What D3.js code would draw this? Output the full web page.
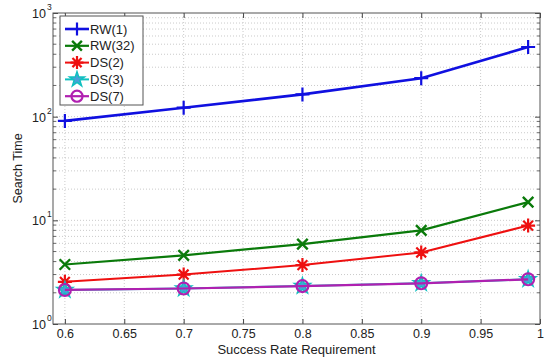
<!DOCTYPE html>
<html>
<head>
<script src="https://d3js.org/d3.v7.min.js"></script>
<style>
body{margin:0;background:#fff;}
text{font-family:"Liberation Sans",Arial,sans-serif;fill:#222;}
</style>
</head>
<body>
<svg width="545" height="363"></svg>
<script>
// data
var rates = [0.6, 0.7, 0.8, 0.9, 0.99];
var rw1  = [91, 122, 164, 235, 470];
var rw32 = [3.75, 4.6, 5.9, 8.0, 15.0];
var ds2  = [2.55, 3.0, 3.7, 4.9, 8.9];
var ds3  = [2.13, 2.2, 2.32, 2.47, 2.7];
var ds7  = [2.13, 2.2, 2.32, 2.47, 2.7];
var xTicks = [0.6, 0.65, 0.7, 0.75, 0.8, 0.85, 0.9, 0.95, 1];
var yTicks = [1, 10, 100, 1000];

var series = [
  {name:'RW(1)',  values:rw1,  color:'#1010e0', marker:'plus', w:2.6},
  {name:'RW(32)', values:rw32, color:'#0a7a0a', marker:'cross', w:2.2},
  {name:'DS(2)',  values:ds2,  color:'#ee1010', marker:'aster', w:2},
  {name:'DS(3)',  values:ds3,  color:'#10c0c0', marker:'star', w:2},
  {name:'DS(7)',  values:ds7,  color:'#b020b0', marker:'circle', w:2.2}
];

var svg = d3.select('svg');
var pLeft = 53, pRight = 540, pTop = 13, pBottom = 324;

var x = d3.scaleLinear().domain([0.59, 1]).range([pLeft, pRight]);
var y = d3.scaleLog().domain([1, 1000]).range([pBottom, pTop]);

var g = svg.append('g');

// grid
var minor = [];
for (var d = 1; d < 1000; d *= 10) for (var k = 2; k <= 9; k++) minor.push(d * k);
g.selectAll('.hg').data(minor.concat(yTicks.slice(1, 3))).enter().append('line')
  .attr('x1', pLeft).attr('x2', pRight)
  .attr('y1', d => y(d)).attr('y2', d => y(d))
  .attr('stroke', '#bdbdbd').attr('stroke-width', 0.8).attr('stroke-dasharray', '1,2');
g.selectAll('.vg').data(xTicks.slice(0, -1)).enter().append('line')
  .attr('x1', d => x(d)).attr('x2', d => x(d))
  .attr('y1', pTop).attr('y2', pBottom)
  .attr('stroke', '#bdbdbd').attr('stroke-width', 0.8).attr('stroke-dasharray', '1,2');

// axes, ticks inward
var ax = d3.axisBottom(x).tickValues(xTicks).tickSize(-5).tickPadding(5)
  .tickFormat(d => d === 1 ? '1' : d3.format('')(d));
var gx = g.append('g').attr('transform', `translate(0,${pBottom})`).call(ax);
gx.select('.domain').remove();
gx.selectAll('text').attr('font-size', 12.5).attr('fill', '#333');
gx.selectAll('line').attr('stroke', '#444');
var gxt = g.append('g').attr('transform', `translate(0,${pTop})`)
  .call(d3.axisTop(x).tickValues(xTicks).tickSize(-5).tickFormat(''));
gxt.select('.domain').remove();
gxt.selectAll('line').attr('stroke', '#444');

var ay = d3.axisLeft(y).tickValues(yTicks).tickSize(-5).tickFormat('');
var gy = g.append('g').attr('transform', `translate(${pLeft},0)`).call(ay);
gy.select('.domain').remove();
gy.selectAll('line').attr('stroke', '#444');
var gyr = g.append('g').attr('transform', `translate(${pRight},0)`)
  .call(d3.axisRight(y).tickValues(yTicks).tickSize(-5).tickFormat(''));
gyr.select('.domain').remove();
gyr.selectAll('line').attr('stroke', '#444');
// minor ticks
[pLeft, pRight].forEach(function (px) {
  var s = px === pLeft ? 1 : -1;
  g.selectAll(null).data(minor).enter().append('line')
    .attr('x1', px).attr('x2', px + s * 3)
    .attr('y1', d => y(d)).attr('y2', d => y(d))
    .attr('stroke', '#444').attr('stroke-width', 0.8);
});

// y tick labels with exponents
yTicks.forEach(function (v) {
  g.append('text').attr('x', pLeft - 7).attr('y', y(v) + 5)
    .attr('text-anchor', 'end').attr('font-size', 12.5).attr('fill', '#333').text('10');
  g.append('text').attr('x', pLeft - 6).attr('y', y(v) - 3)
    .attr('font-size', 8.5).attr('fill', '#333').text(Math.log10(v));
});

// box
g.append('rect').attr('x', pLeft).attr('y', pTop).attr('width', pRight - pLeft).attr('height', pBottom - pTop)
  .attr('fill', 'none').attr('stroke', '#555').attr('stroke-width', 1);

// labels
g.append('text').attr('x', (pLeft + pRight) / 2).attr('y', 354).attr('text-anchor', 'middle')
  .attr('font-size', 13).attr('fill', '#333').text('Success Rate Requirement');
g.append('text').attr('transform', `translate(22,${(pTop + pBottom) / 2}) rotate(-90)`)
  .attr('text-anchor', 'middle').attr('font-size', 12.5).attr('fill', '#333').text('Search Time');

// markers
function marker(sel, s, r) {
  var c = s.color;
  if (s.marker === 'plus') {
    sel.append('path').attr('d', `M${-r},0H${r}M0,${-r}V${r}`).attr('stroke', c).attr('stroke-width', 2.2);
  } else if (s.marker === 'cross') {
    var a = r * 0.75;
    sel.append('path').attr('d', `M${-a},${-a}L${a},${a}M${-a},${a}L${a},${-a}`).attr('stroke', c).attr('stroke-width', 2.4);
  } else if (s.marker === 'aster') {
    var a2 = r * 0.7;
    sel.append('path').attr('d', `M${-r},0H${r}M0,${-r}V${r}M${-a2},${-a2}L${a2},${a2}M${-a2},${a2}L${a2},${-a2}`)
      .attr('stroke', c).attr('stroke-width', 2.2);
  } else if (s.marker === 'star') {
    sel.append('path').attr('d', d3.symbol(d3.symbolStar, r * r * 1.6)())
      .attr('fill', '#4aa0d8').attr('stroke', c).attr('stroke-width', 1.5);
  } else {
    sel.append('circle').attr('r', r * 0.85).attr('fill', 'none').attr('stroke', c).attr('stroke-width', 2.2);
  }
}

var line = d3.line().x(d => x(d[0])).y(d => y(d[1]));
series.forEach(function (s) {
  var pts = rates.map((r, i) => [r, s.values[i]]);
  g.append('path').datum(pts).attr('d', line).attr('fill', 'none')
    .attr('stroke', s.color).attr('stroke-width', s.w);
  pts.forEach(function (p) {
    var m = g.append('g').attr('transform', `translate(${x(p[0])},${y(p[1])})`);
    marker(m, s, 7);
  });
});

// legend
var lg = g.append('g').attr('transform', 'translate(60,16)');
lg.append('rect').attr('width', 83).attr('height', 89).attr('fill', '#fff').attr('stroke', '#555');
series.forEach(function (s, i) {
  var yy = 13 + i * 16.8;
  lg.append('line').attr('x1', 5).attr('x2', 29).attr('y1', yy).attr('y2', yy)
    .attr('stroke', s.color).attr('stroke-width', s.w);
  var m = lg.append('g').attr('transform', `translate(17,${yy})`);
  marker(m, s, 6.5);
  lg.append('text').attr('x', 30).attr('y', yy + 4.5).attr('font-size', 13).attr('fill', '#333').text(s.name);
});
</script>
</body>
</html>
